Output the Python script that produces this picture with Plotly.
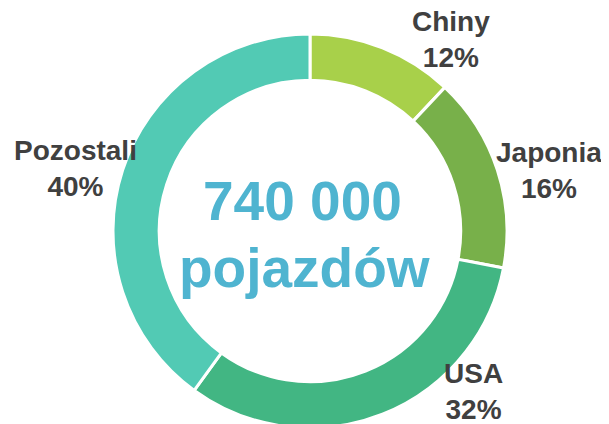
import plotly.graph_objects as go

# Data
countries = ["Chiny", "Japonia", "USA", "Pozostali"]
shares = [12, 16, 32, 40]
total_text = "740 000"
unit_text = "pojazdów"

COLORS = ["#a8d04a", "#78b04a", "#42b683", "#52cab4"]
LABEL = "#404040"
BLUE = "#4fb4d0"
W, H = 609, 424
OFF = 8  # page body margin pushes the plot 8px right/down

# label anchor spots in page pixels (centre of the two-line block)
label_px = [(451, 40), (549, 170), (473, 391), (75, 168)]


def px(x, y):
    return (x - OFF) / W, 1 - (y - OFF) / H


# ring: centre (310, 231), outer radius 197 in page pixels
cx, cy, r = 310 - OFF, 231 - OFF, 197

fig = go.Figure()
fig.add_trace(go.Pie(
    labels=countries,
    values=shares,
    hole=0.765,
    sort=False,
    direction="clockwise",
    rotation=0,
    marker=dict(colors=COLORS, line=dict(color="white", width=3)),
    textinfo="none",
    hoverinfo="label+percent",
    domain=dict(x=[(cx - r) / W, (cx + r) / W], y=[1 - (cy + r) / H, 1 - (cy - r) / H]),
    showlegend=False,
))

total = sum(shares)
annotations = []
for name, val, (lx, ly) in zip(countries, shares, label_px):
    x, y = px(lx, ly)
    annotations.append(dict(
        x=x, y=y, xref="paper", yref="paper", showarrow=False,
        xanchor="center", yanchor="middle",
        text=f"<b>{name}<br>{round(100 * val / total)}%</b>",
        font=dict(size=28, color=LABEL, family="Liberation Sans, Arial"),
    ))

x, y = px(302, 201)
annotations.append(dict(
    x=x, y=y, xref="paper", yref="paper", showarrow=False,
    xanchor="center", yanchor="middle", text=f"<b>{total_text}</b>",
    font=dict(size=55, color=BLUE, family="Liberation Sans, Arial"),
))
x, y = px(304, 268)
annotations.append(dict(
    x=x, y=y, xref="paper", yref="paper", showarrow=False,
    xanchor="center", yanchor="middle", text=f"<b>{unit_text}</b>",
    font=dict(size=55, color=BLUE, family="Liberation Sans, Arial"),
))

fig.update_layout(
    width=W, height=H,
    margin=dict(l=0, r=0, t=0, b=0),
    paper_bgcolor="white",
    plot_bgcolor="white",
    annotations=annotations,
)

fig.write_html("out.html")
